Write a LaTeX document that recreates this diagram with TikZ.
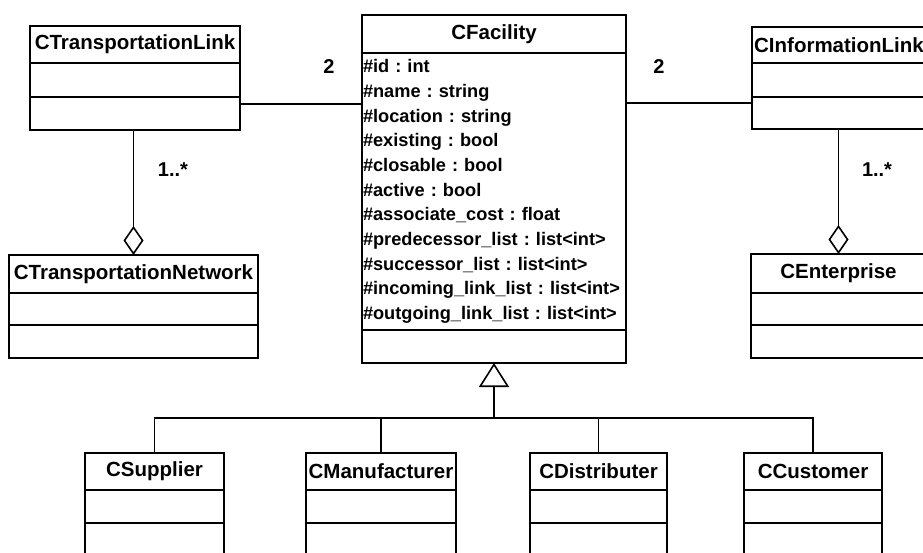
\documentclass[tikz,border=0pt]{standalone}
\usepackage{fontspec}
\setmainfont{Liberation Sans}
\usetikzlibrary{positioning,arrows.meta}
\frenchspacing

\begin{document}
\begin{tikzpicture}[
    x=1pt, y=-1pt,
    node distance=0pt,
    clshead/.style={rectangle, draw, line width=1.5pt, outer sep=0pt, inner sep=1pt, font=\bfseries\fontsize{20.5}{24}\selectfont},
    clsbody/.style={rectangle, draw, line width=1.5pt, outer sep=0pt, inner sep=0pt},
    attrs/.style={clsbody, inner sep=1pt, text width=262pt, align=left, font=\bfseries\fontsize{18.2}{24.7}\selectfont},
    link/.style={line width=1.6pt},
    agg/.style={link, {Diamond[open, length=29pt, width=20pt]}-},
    inherit/.style={link, -{Triangle[open, length=24pt, width=30pt]}},
    mult/.style={font=\bfseries\fontsize{20}{24}\selectfont}
]
\useasboundingbox (0,0) rectangle (923,552);
\clip (0,0) rectangle (923,552);

% Top row: link classes
\node[clshead, minimum width=210pt, minimum height=37pt] (tlink) at (135,44.5) {CTransportationLink};
\node[clsbody, minimum width=210pt, minimum height=34pt, below=of tlink] (tlinkA) {};
\node[clsbody, minimum width=210pt, minimum height=33pt, below=of tlinkA] (tlinkB) {};

\node[clshead, minimum width=174pt, minimum height=36pt] (ilink) at (839,45) {CInformationLink};
\node[clsbody, minimum width=174pt, minimum height=34pt, below=of ilink] (ilinkA) {};
\node[clsbody, minimum width=174pt, minimum height=32pt, below=of ilinkA] (ilinkB) {};

% Centre: facility class
\node[clshead, minimum width=264pt, minimum height=38pt] (fac) at (494,34) {CFacility};
\node[attrs, minimum height=277pt, below=of fac] (facA) {\#id : int\\
\#name : string\\
\#location : string\\
\#existing : bool\\
\#closable : bool\\
\#active : bool\\
\#associate\_cost : float\\
\#predecessor\_list : list<int>\\
\#successor\_list : list<int>\\
\#incoming\_link\_list : list<int>\\
\#outgoing\_link\_list : list<int>};
\node[clsbody, minimum width=264pt, minimum height=33pt, below=of facA] (facB) {};

% Middle row: aggregate classes
\node[clshead, minimum width=249pt, minimum height=38pt] (tnet) at (133.5,274) {CTransportationNetwork};
\node[clsbody, minimum width=249pt, minimum height=32pt, below=of tnet] (tnetA) {};
\node[clsbody, minimum width=249pt, minimum height=33pt, below=of tnetA] (tnetB) {};

\node[clshead, minimum width=175pt, minimum height=39pt] (ent) at (838.5,273.5) {CEnterprise};
\node[clsbody, minimum width=175pt, minimum height=32pt, below=of ent] (entA) {};
\node[clsbody, minimum width=175pt, minimum height=33pt, below=of entA] (entB) {};

% Bottom row: facility kinds
\node[clshead, minimum width=139pt, minimum height=37pt] (sup) at (154.5,471.5) {CSupplier};
\node[clshead, minimum width=150pt, minimum height=37pt] (man) at (381,471.5) {CManufacturer};
\node[clshead, minimum width=137pt, minimum height=37pt] (dist) at (598.5,471.5) {CDistributer};
\node[clshead, minimum width=138pt, minimum height=37pt] (cust) at (813,471.5) {CCustomer};
\foreach \c/\w in {sup/139, man/150, dist/137, cust/138} {
  \node[clsbody, minimum width=\w pt, minimum height=33pt, below=of \c] (\c A) {};
  \node[clsbody, minimum width=\w pt, minimum height=40pt, below=of \c A] (\c B) {};
}

% Associations
\draw[link] ([yshift=-7pt]tlinkB.north east) -- ([yshift=-7pt]tlinkB.north east -| facA.west);
\draw[link] ([yshift=-6pt]ilinkB.north west) -- ([yshift=-6pt]ilinkB.north west -| facA.east);
\node[mult] (m1) at (329,67) {2};
\node[mult] (m2) at (659,67) {2};

% Aggregations
\draw[agg] (tnet.north) -- (tnet.north |- tlinkB.south);
\draw[agg] (ent.north) -- (ent.north |- ilinkB.south);
\node[mult] (m3) at (173,170) {1..*};
\node[mult] (m4) at (877,170) {1..*};

% Generalisation
\coordinate (bus) at (494,418);
\draw[inherit] (bus) -- (facB.south);
\draw[link] (sup.north) -- (sup.north |- bus) -- (cust.north |- bus) -- (cust.north);
\foreach \c in {man, dist}
  \draw[link] (\c.north) -- (\c.north |- bus);

\end{tikzpicture}
\end{document}
